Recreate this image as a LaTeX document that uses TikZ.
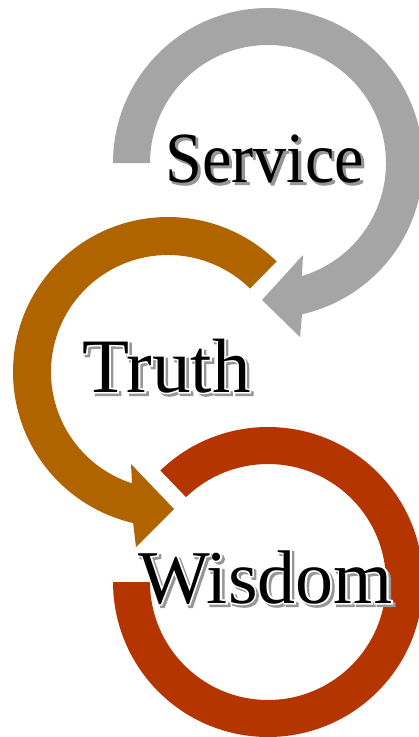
\documentclass[tikz,border=0pt]{standalone}
\usepackage{fontspec}
\setmainfont{Liberation Serif}
\usepackage{graphicx}
\usetikzlibrary{calc}
\definecolor{arrowgray}{RGB}{165,165,165}
\definecolor{arroworange}{RGB}{175,100,0}
\definecolor{arrowred}{RGB}{180,53,0}
\definecolor{shade}{RGB}{150,150,150}
\newcommand\oc[4]{\rlap{\kern\dimexpr#1\relax\raisebox{\dimexpr#2\relax}{\color{#3}#4}}}
\newcommand\outlinedword[1]{\mbox{\oc{2.5pt}{-2.5pt}{shade}{\addfontfeature{FakeBold=4}#1}\oc{0pt}{0pt}{white}{\addfontfeature{FakeBold=4}#1}{\color{black}#1}}}
\newcommand\shadedword[1]{\mbox{\oc{2.5pt}{-2.5pt}{shade}{\addfontfeature{FakeBold=1.5}#1}{\color{black}#1}}}
\tikzset{
  word/.style={anchor=base west, inner sep=0pt, font=\fontsize{76pt}{80pt}\selectfont},
}
\begin{document}
\begin{tikzpicture}[x=1pt,y=-1pt]
\useasboundingbox (0,0) rectangle (419,737);
\fill[white] (0,0) rectangle (419,737);
\clip (0,0) rectangle (419,737);
\coordinate (cg) at (268,163);
\coordinate (co) at (168,372);
\coordinate (cr) at (268,582);
% gray arrow
\fill[arrowgray] ($(cg)+(180:155)$) arc[start angle=180, end angle=437.3, radius=155]
  -- (300,337) -- (262,300) -- (303,255)
  -- ($(cg)+(433.3:118)$) arc[start angle=433.3, end angle=180, radius=118] -- cycle;
% orange arrow
\fill[arroworange] ($(co)+(-45.5:155)$) arc[start angle=-45.5, end angle=-257, radius=155]
  -- (136,547) -- (174,509) -- (131,464)
  -- ($(co)+(-252.1:117)$) arc[start angle=-252.1, end angle=-45.5, radius=117] -- cycle;
% red arc
\fill[arrowred] ($(cr)+(-134:155)$) arc[start angle=-134, end angle=180, radius=155]
  -- ($(cr)+(180:118)$) arc[start angle=180, end angle=-134, radius=118] -- cycle;
% words
\node[word, font=\fontsize{72pt}{76pt}\selectfont] (service) at (165,182) {\scalebox{0.92}[1]{\shadedword{Service}}};
\node[word, font=\fontsize{77pt}{80pt}\selectfont] (truth) at (82,392) {\outlinedword{Truth}};
\node[word] (wisdom) at (138,603) {\outlinedword{Wisdom}};
\end{tikzpicture}
\end{document}
